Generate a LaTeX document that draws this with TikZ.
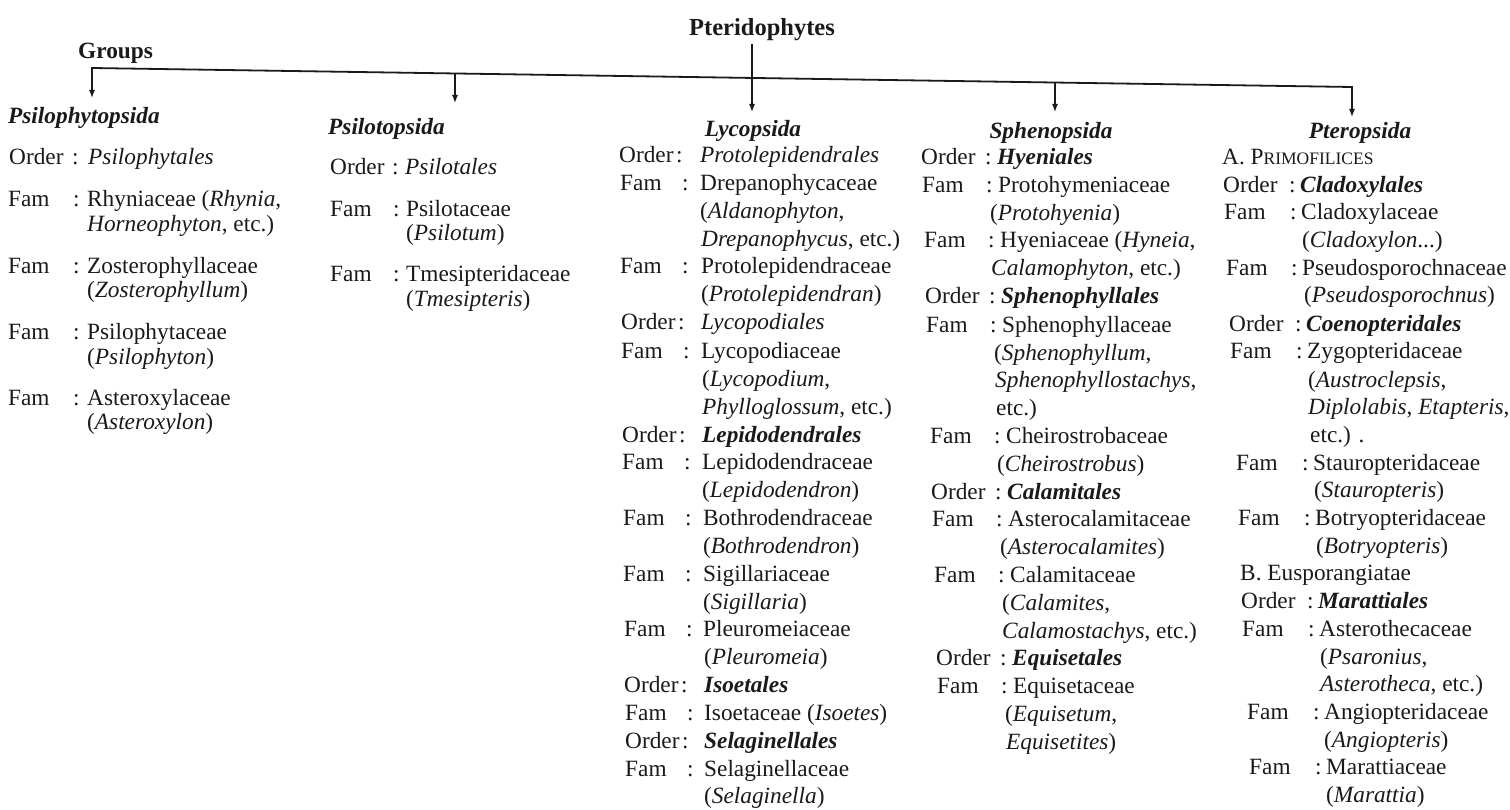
\documentclass[tikz,border=0pt]{standalone}
\usepackage{fontspec}
\setmainfont{Liberation Serif}
\usetikzlibrary{arrows.meta}
\definecolor{ink}{HTML}{1A1A1A}
\newcommand\bodyfs{\fontsize{23.3}{27}\selectfont}
\newcommand\scfs{\fontsize{17.5}{20}\selectfont}
% row with label, colon and text
\newcommand\frow[7]{%
  \node[txt] (#1l) at (#3,#2) {#6};
  \node[txt] (#1c) at (#4,#2) {:};
  \node[txt] (#1t) at (#5,#2) {#7};}
% continuation row
\newcommand\crow[4]{\node[txt] (#1) at (#3,#2) {#4};}
\begin{document}
\begin{tikzpicture}[x=1pt,y=-1pt,
  txt/.style={anchor=base west,inner sep=0pt,font=\bodyfs,text=ink},
  grp/.style={anchor=base,inner sep=0pt,font=\bodyfs\bfseries\itshape,text=ink},
  bar/.style={draw=ink,line width=1.8pt,line cap=rect},
  arr/.style={draw=ink,line width=1.3pt,-{Latex[length=8pt,width=6pt]}}]
\useasboundingbox[fill=white] (0,0) rectangle (1510,810);

% title and groups
\node[anchor=base,inner sep=0pt,font=\fontsize{24.5}{28}\selectfont\bfseries,text=ink] (pt) at (762,36) {Pteridophytes};
\node[anchor=base west,inner sep=0pt,font=\bodyfs\bfseries,text=ink] (groups) at (78,59) {Groups};

% connector geometry
\coordinate (j1) at (92,68);
\coordinate (j2) at (455,73.5);
\coordinate (j3) at (752,78);
\coordinate (j4) at (1055,82.5);
\coordinate (j5) at (1352,87);
\coordinate (a1) at (92,98);
\coordinate (a2) at (455,103);
\coordinate (a3) at (752,112);
\coordinate (a4) at (1055,112);
\coordinate (a5) at (1352,117);

\draw[bar] (j1) -- (j5);
\draw[arr,shorten <=3pt] (pt.south -| a3) -- (a3);
\draw[arr] (j1) -- (a1);
\draw[arr] (j2) -- (a2);
\draw[arr] (j4) -- (a4);
\draw[arr] (j5) -- (a5);

% group titles
\node[grp,anchor=base west] (t1) at (8,124) {Psilophytopsida};
\node[grp,anchor=base west] (t2) at (328,135) {Psilotopsida};
\node[grp] (t3) at (753,137) {Lycopsida};
\node[grp] (t4) at (1051,139) {Sphenopsida};
\node[grp] (t5) at (1360,139) {Pteropsida};

% column 1: Psilophytopsida
\frow{p1}{165}{9}{72}{88}{Order}{\textit{Psilophytales}}
\frow{p2}{207}{8}{73}{87}{Fam}{Rhyniaceae (\textit{Rhynia},}
\crow{p3}{232}{87}{\textit{Horneophyton}, etc.)}
\frow{p4}{274}{8}{73}{87}{Fam}{Zosterophyllaceae}
\crow{p5}{298}{87}{(\textit{Zosterophyllum})}
\frow{p6}{340}{8}{73}{87}{Fam}{Psilophytaceae}
\crow{p7}{364}{87}{(\textit{Psilophyton})}
\frow{p8}{405}{8}{73}{87}{Fam}{Asteroxylaceae}
\crow{p9}{429}{87}{(\textit{Asteroxylon})}

% column 2: Psilotopsida
\frow{s1}{175}{330}{392}{405}{Order}{\textit{Psilotales}}
\frow{s2}{217}{330}{393}{406}{Fam}{Psilotaceae}
\crow{s3}{241}{406}{(\textit{Psilotum})}
\frow{s4}{282}{330}{393}{406}{Fam}{Tmesipteridaceae}
\crow{s5}{307}{406}{(\textit{Tmesipteris})}

% column 3: Lycopsida
\frow{l1}{163}{619}{676}{700}{Order}{\textit{Protolepidendrales}}
\frow{l2}{191}{620}{682}{700}{Fam}{Drepanophycaceae}
\crow{l3}{219}{700}{(\textit{Aldanophyton},}
\crow{l4}{247}{701}{\textit{Drepanophycus}, etc.)}
\frow{l5}{274}{620}{682}{701}{Fam}{Protolepidendraceae}
\crow{l6}{302}{701}{(\textit{Protolepidendran})}
\frow{l7}{330}{621}{678}{701}{Order}{\textit{Lycopodiales}}
\frow{l8}{358}{621}{683}{701}{Fam}{Lycopodiaceae}
\crow{l9}{386}{702}{(\textit{Lycopodium},}
\crow{l10}{414}{702}{\textit{Phylloglossum}, etc.)}
\frow{l11}{442}{622}{679}{702}{Order}{\textbf{\textit{Lepidodendrales}}}
\frow{l12}{469}{622}{684}{702}{Fam}{Lepidodendraceae}
\crow{l13}{497}{702}{(\textit{Lepidodendron})}
\frow{l14}{525}{623}{685}{703}{Fam}{Bothrodendraceae}
\crow{l15}{553}{703}{(\textit{Bothrodendron})}
\frow{l16}{581}{623}{685}{703}{Fam}{Sigillariaceae}
\crow{l17}{609}{703}{(\textit{Sigillaria})}
\frow{l18}{636}{624}{686}{703}{Fam}{Pleuromeiaceae}
\crow{l19}{664}{704}{(\textit{Pleuromeia})}
\frow{l20}{692}{624}{681}{704}{Order}{\textbf{\textit{Isoetales}}}
\frow{l21}{720}{625}{687}{704}{Fam}{Isoetaceae (\textit{Isoetes})}
\frow{l22}{748}{625}{682}{704}{Order}{\textbf{\textit{Selaginellales}}}
\frow{l23}{776}{625}{687}{704}{Fam}{Selaginellaceae}
\crow{l24}{803}{704}{(\textit{Selaginella})}

% column 4: Sphenopsida
\frow{h1}{165}{921}{985}{997}{Order}{\textbf{\textit{Hyeniales}}}
\frow{h2}{193}{922}{986}{998}{Fam}{Protohymeniaceae}
\crow{h3}{221}{990}{(\textit{Protohyenia})}
\frow{h4}{248}{924}{988}{1000}{Fam}{Hyeniaceae (\textit{Hyneia},}
\crow{h5}{276}{991}{\textit{Calamophyton}, etc.)}
\frow{h6}{304}{925}{989}{1001}{Order}{\textbf{\textit{Sphenophyllales}}}
\frow{h7}{332}{926}{990}{1002}{Fam}{Sphenophyllaceae}
\crow{h8}{360}{994}{(\textit{Sphenophyllum},}
\crow{h9}{387}{995}{\textit{Sphenophyllostachys},}
\crow{h10}{415}{996}{etc.)}
\frow{h11}{443}{930}{994}{1006}{Fam}{Cheirostrobaceae}
\crow{h12}{471}{997}{(\textit{Cheirostrobus})}
\frow{h13}{499}{931}{995}{1007}{Order}{\textbf{\textit{Calamitales}}}
\frow{h14}{526}{932}{996}{1008}{Fam}{Asterocalamitaceae}
\crow{h15}{554}{1000}{(\textit{Asterocalamites})}
\frow{h16}{582}{934}{998}{1010}{Fam}{Calamitaceae}
\crow{h17}{610}{1002}{(\textit{Calamites},}
\crow{h18}{638}{1002}{\textit{Calamostachys}, etc.)}
\frow{h19}{665}{936}{1000}{1012}{Order}{\textbf{\textit{Equisetales}}}
\frow{h20}{693}{937}{1001}{1013}{Fam}{Equisetaceae}
\crow{h21}{721}{1005}{(\textit{Equisetum},}
\crow{h22}{749}{1006}{\textit{Equisetites})}

% column 5: Pteropsida
\crow{f1}{165}{1222}{A. P{\scfs RIMOFILICES}}
\frow{f2}{193}{1223}{1289}{1300}{Order}{\textbf{\textit{Cladoxylales}}}
\frow{f3}{220}{1224}{1290}{1301}{Fam}{Cladoxylaceae}
\crow{f4}{248}{1302}{(\textit{Cladoxylon}...)}
\frow{f5}{276}{1226}{1291}{1302}{Fam}{Pseudosporochnaceae}
\crow{f6}{303}{1304}{(\textit{Pseudosporochnus})}
\frow{f7}{331}{1229}{1295}{1306}{Order}{\textbf{\textit{Coenopteridales}}}
\frow{f8}{359}{1230}{1296}{1307}{Fam}{Zygopteridaceae}
\crow{f9}{387}{1308}{(\textit{Austroclepsis},}
\crow{f10}{414}{1308}{\textit{Diplolabis}, \textit{Etapteris},}
\crow{f11}{442}{1310}{etc.) .}
\frow{f12}{470}{1236}{1302}{1313}{Fam}{Stauropteridaceae}
\crow{f13}{497}{1314}{(\textit{Stauropteris})}
\frow{f14}{525}{1238}{1304}{1315}{Fam}{Botryopteridaceae}
\crow{f15}{553}{1316}{(\textit{Botryopteris})}
\crow{f16}{580}{1240}{B. Eusporangiatae}
\frow{f17}{608}{1241}{1307}{1318}{Order}{\textbf{\textit{Marattiales}}}
\frow{f18}{636}{1242}{1308}{1319}{Fam}{Asterothecaceae}
\crow{f19}{664}{1320}{(\textit{Psaronius},}
\crow{f20}{691}{1320}{\textit{Asterotheca}, etc.)}
\frow{f21}{719}{1247}{1313}{1324}{Fam}{Angiopteridaceae}
\crow{f22}{747}{1324}{(\textit{Angiopteris})}
\frow{f23}{774}{1249}{1315}{1326}{Fam}{Marattiaceae}
\crow{f24}{802}{1326}{(\textit{Marattia})}
\end{tikzpicture}
\end{document}
